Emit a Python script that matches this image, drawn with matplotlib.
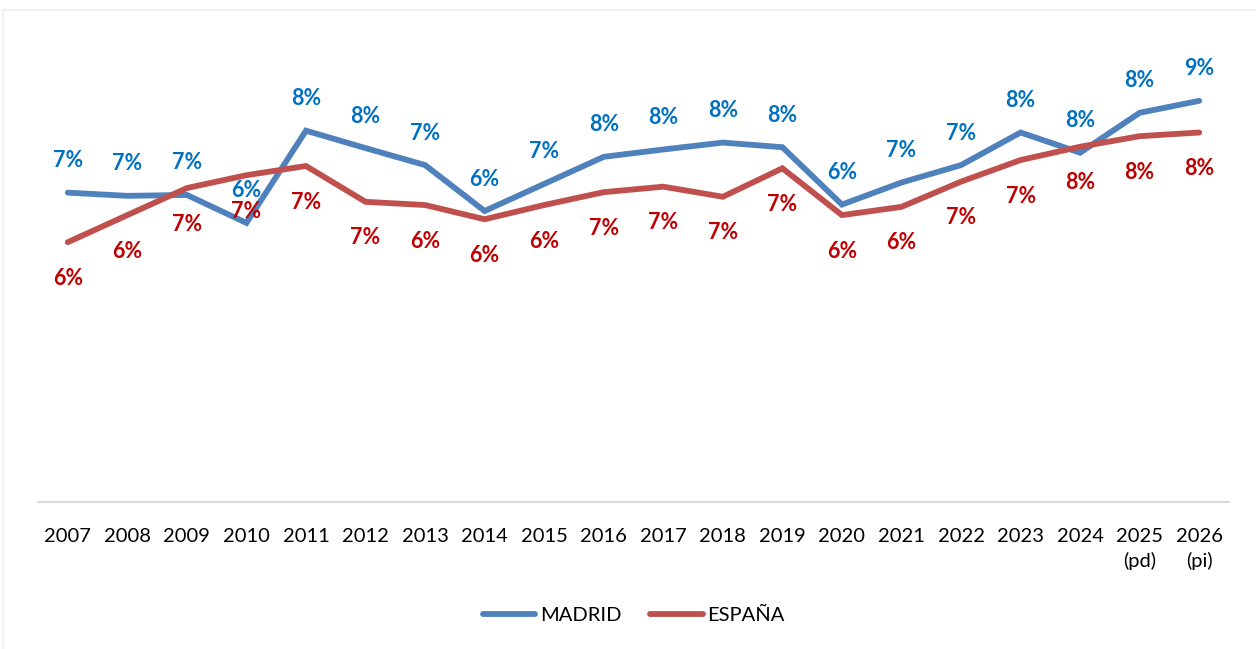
import matplotlib
matplotlib.use("Agg")
import matplotlib.pyplot as plt
from matplotlib.patches import Rectangle

years = ["2007", "2008", "2009", "2010", "2011", "2012", "2013", "2014", "2015",
         "2016", "2017", "2018", "2019", "2020", "2021", "2022", "2023", "2024",
         "2025\n(pd)", "2026\n(pi)"]
madrid = [6.74, 6.67, 6.69, 6.08, 8.09, 7.71, 7.34, 6.34, 6.93, 7.52,
          7.68, 7.83, 7.73, 6.48, 6.96, 7.34, 8.05, 7.61, 8.48, 8.74]
espana = [5.66, 6.25, 6.84, 7.12, 7.32, 6.54, 6.47, 6.16, 6.47, 6.75,
          6.87, 6.65, 7.27, 6.25, 6.43, 6.98, 7.45, 7.74, 7.97, 8.05]

plt.rcParams["font.family"] = ["Lato", "DejaVu Sans"]

fig = plt.figure(figsize=(12.56, 6.49), dpi=100)
fig.patches.append(Rectangle((3 / 1256, -0.1), 1.2, (649 - 10) / 649 + 0.1,
                             transform=fig.transFigure, fill=False,
                             edgecolor="#EFEFEF", linewidth=1.2))

ax = fig.add_axes([38 / 1256, (649 - 502) / 649, 1191 / 1256, 459 / 649])
x = list(range(len(years)))

ax.plot(x, madrid, color="#4F81BD", lw=4.2, solid_capstyle="round",
        solid_joinstyle="miter", label="MADRID")
ax.plot(x, espana, color="#C0504D", lw=4.2, solid_capstyle="round",
        solid_joinstyle="miter", label="ESPAÑA")

for xi, v in zip(x, madrid):
    ax.annotate(f"{v:.0f}%", (xi, v), xytext=(0, 23), textcoords="offset points",
                ha="center", va="center", color="#0070C0", fontsize=15.5,
                fontweight="bold")
for xi, v in zip(x, espana):
    ax.annotate(f"{v:.0f}%", (xi, v), xytext=(0, -26), textcoords="offset points",
                ha="center", va="center", color="#C00000", fontsize=15.5,
                fontweight="bold")

ax.set_xlim(-0.5, 19.5)
ax.set_ylim(0, 10)
ax.set_yticks([])
ax.set_xticks(x)
ax.set_xticklabels(years, fontsize=14.5, color="#000000", linespacing=1.45,
                   va="top")
ax.tick_params(axis="x", length=0, pad=19)
for s in ["top", "right", "left"]:
    ax.spines[s].set_visible(False)
ax.spines["bottom"].set_color("#D9D9D9")
ax.spines["bottom"].set_linewidth(1.5)

leg = fig.legend(loc="center", bbox_to_anchor=(634 / 1256, 1 - 615 / 649),
                 ncol=2, frameon=False, fontsize=14.5, handlelength=2.6,
                 handletextpad=0.25, columnspacing=1.4)

fig.savefig("out.png", dpi=100, facecolor="white")
